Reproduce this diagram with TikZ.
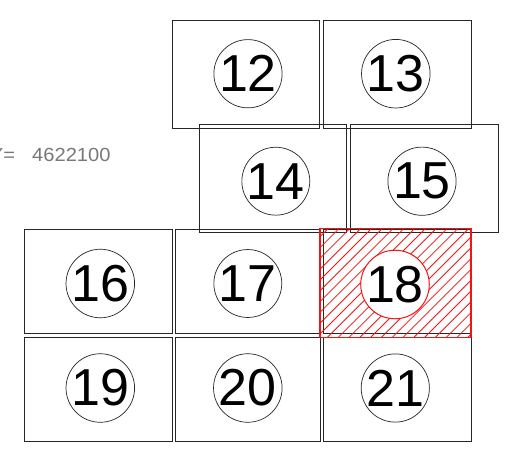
\documentclass[tikz,border=0pt]{standalone}
\usepackage{fontspec}
\setmainfont{Liberation Sans}
\definecolor{labelgray}{RGB}{120,120,120}
\definecolor{hatchred}{RGB}{240,20,20}
\begin{document}
\begin{tikzpicture}[x=1pt,y=-1pt,
  sheet/.style={draw=black!85,line width=0.8pt},
  num/.style={circle,draw=black!85,line width=0.7pt,fill=white,minimum size=59pt,inner sep=0pt,
    font=\fontsize{52}{52}\selectfont},
  numred/.style={num,draw=hatchred,line width=1pt},
  coordlabel/.style={anchor=base east,inner sep=0pt,text=labelgray,xscale=1.06,
    font=\fontsize{19}{19}\selectfont}]
\useasboundingbox (0,0) rectangle (509,451);
\fill[white] (0,0) rectangle (509,451);
% sheets
\draw[sheet] (172.3,20) rectangle (319.7,128);
\draw[sheet] (323.3,20) rectangle (471,128);
\draw[sheet] (199.3,124) rectangle (346.7,232.5);
\draw[sheet] (350,124) rectangle (498.3,232.5);
\draw[sheet] (24.7,229) rectangle (172.7,333.3);
\draw[sheet] (175.7,229) rectangle (320,333.3);
\draw[sheet] (323.3,229) rectangle (471,333.3);
\draw[sheet] (24.7,337.3) rectangle (172.7,441.7);
\draw[sheet] (175.7,337.3) rectangle (320,441.7);
\draw[sheet] (323.3,337.3) rectangle (471,441.7);
% highlighted sheet 18
\begin{scope}
  \clip (320,228.5) rectangle (471,337.3);
  \foreach \i in {-1,...,25} {
    \pgfmathsetmacro{\c}{556.8+10.8*\i}
    \draw[hatchred,line width=0.8pt] ({\c-337.3},337.3) -- ({\c-228.5},228.5);
  }
\end{scope}
\draw[hatchred,line width=1.1pt] (320,228.5) rectangle (471,337.3);
% numbers
\node[num] (n12) at (248,73.7) {12};
\node[num] (n13) at (395.8,73.7) {13};
\node[num] (n14) at (275.8,181.2) {14};
\node[num] (n15) at (422,181.2) {15};
\node[num] (n16) at (100.3,283.5) {16};
\node[num] (n17) at (247.8,283.5) {17};
\node[numred] (n18) at (395,284.5) {18};
\node[num] (n19) at (100.3,388) {19};
\node[num] (n20) at (247.8,388) {20};
\node[num] (n21) at (395.3,388) {21};
% coordinate label (cut at the left edge, as in the reference)
\node[coordlabel] (ylab) at (110.8,161.5) {Y=\hspace{0.85em}4622100};
\end{tikzpicture}
\end{document}
